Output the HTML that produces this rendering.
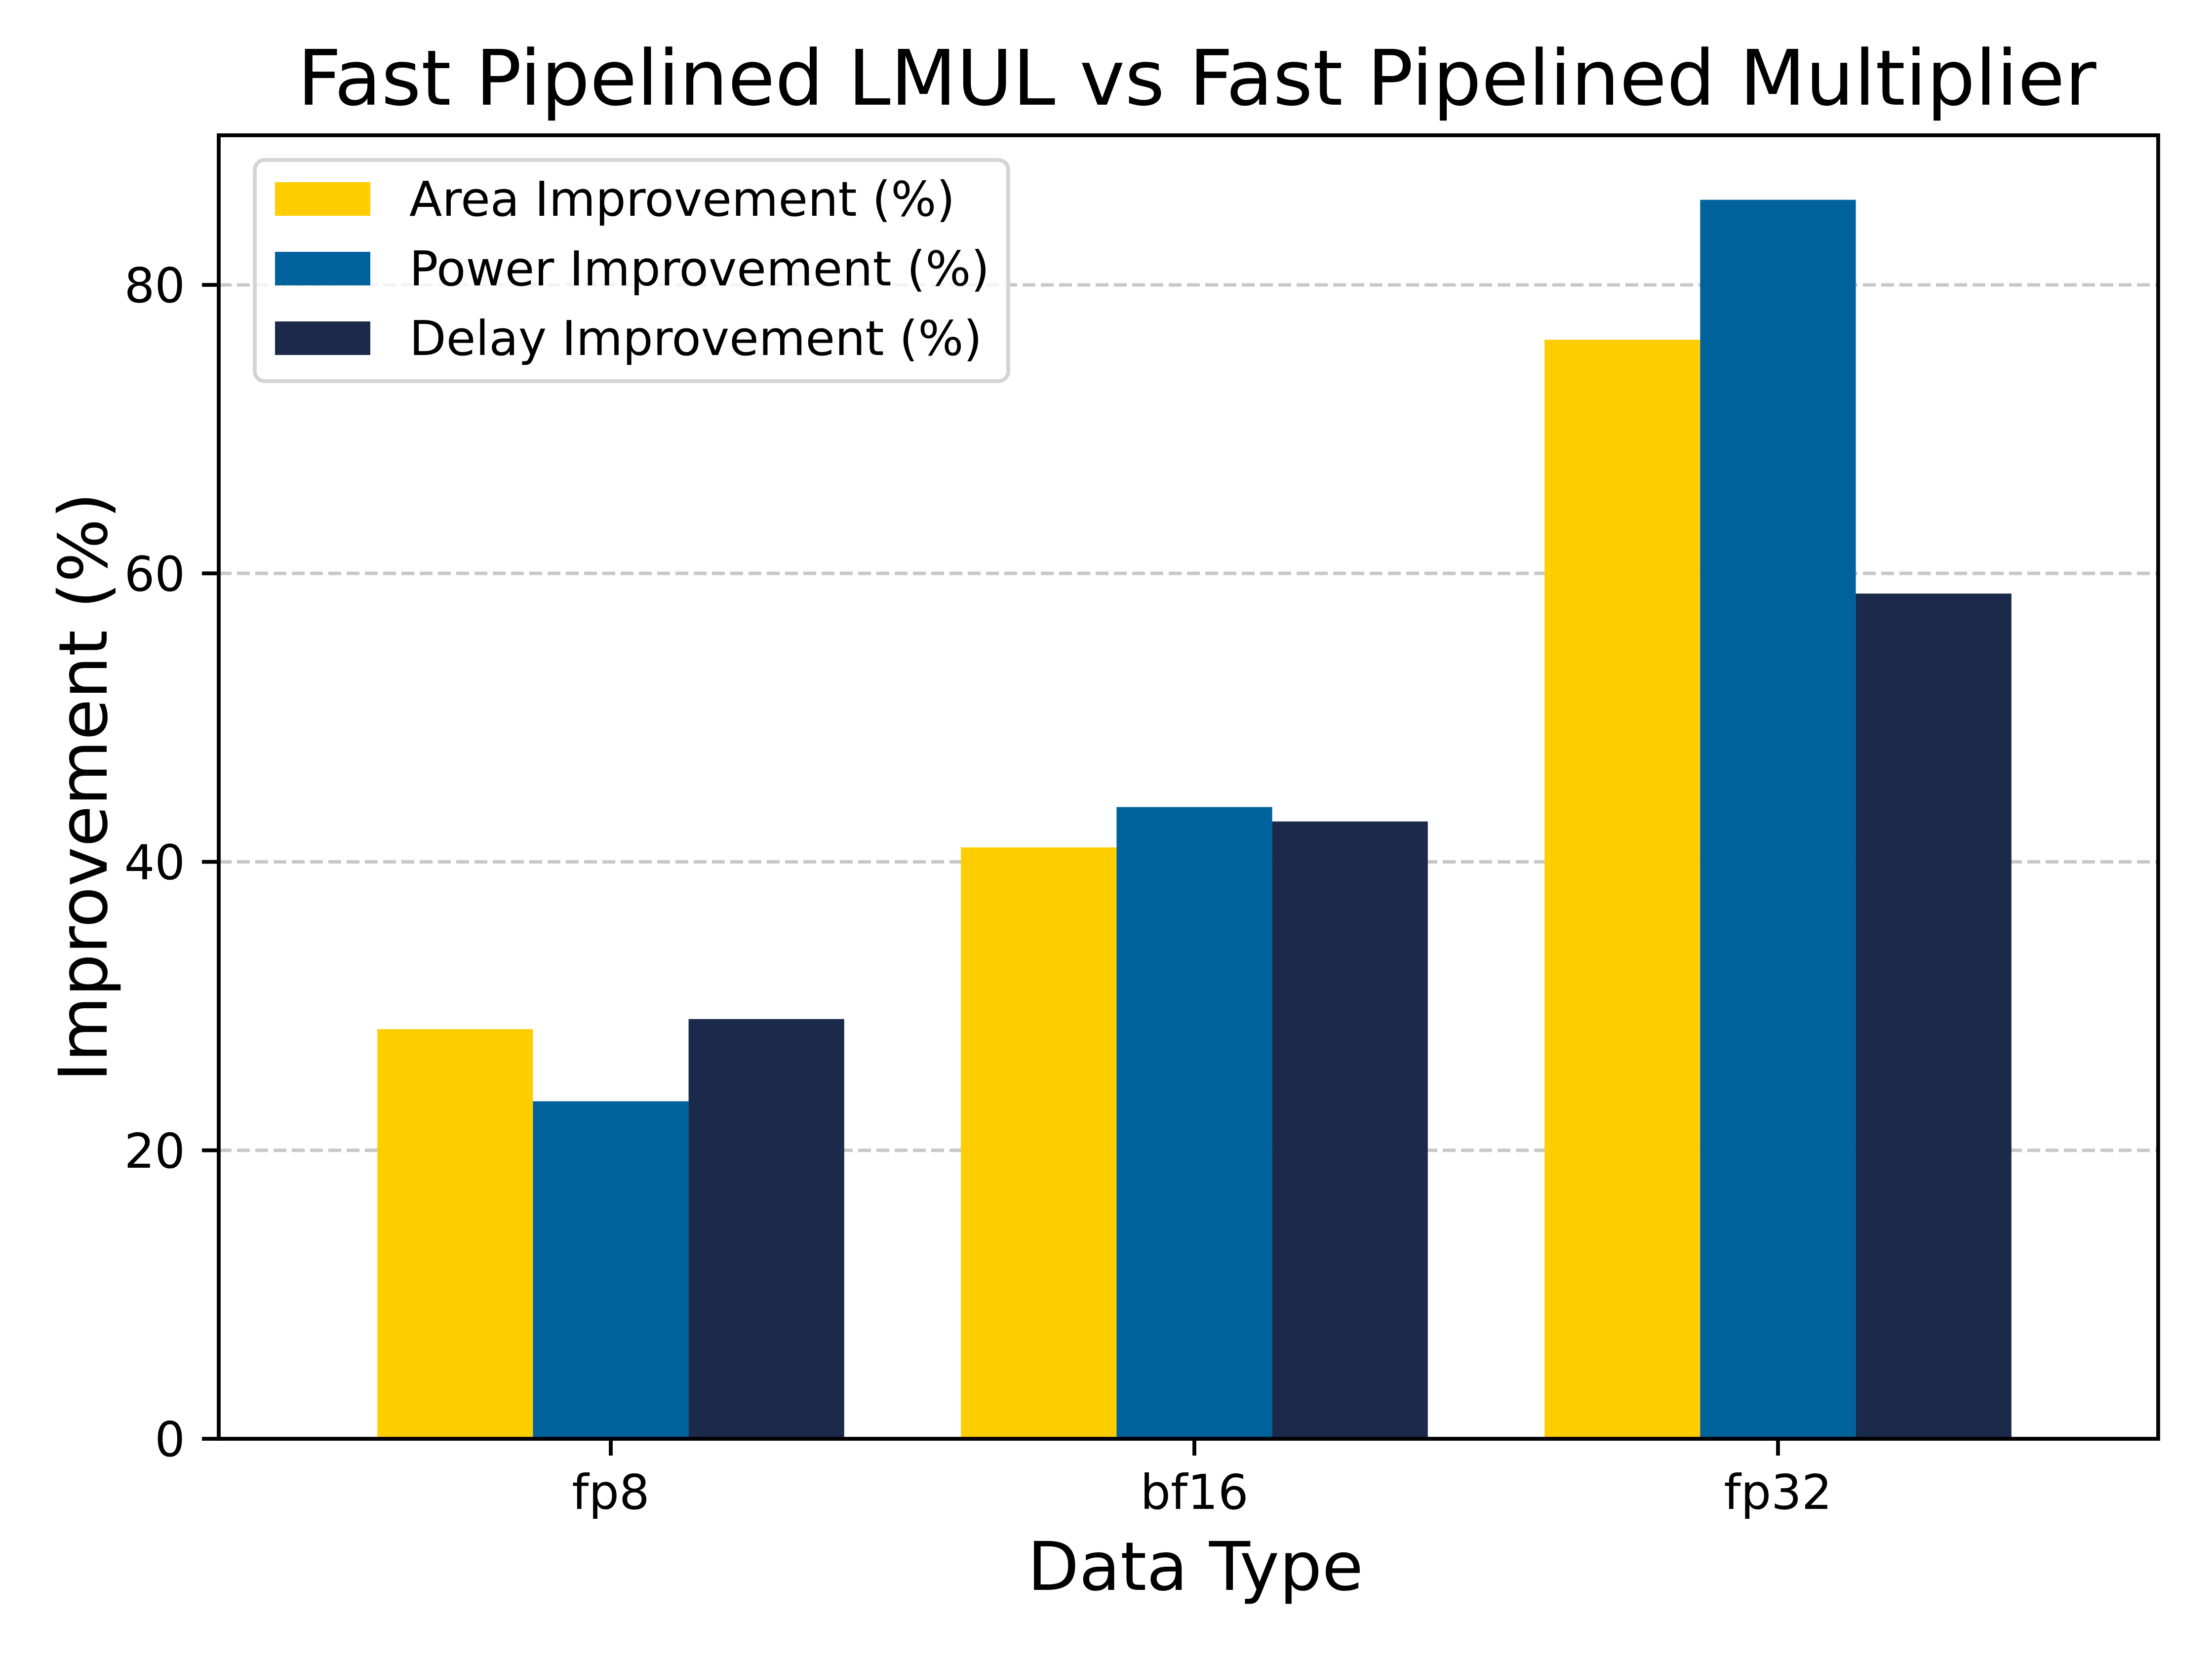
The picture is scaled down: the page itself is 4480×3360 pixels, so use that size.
<!DOCTYPE html>
<html><head><meta charset="utf-8"><style>
html,body{margin:0;padding:0;background:#fff;}
svg{display:block;font-family:"DejaVu Sans","Liberation Sans",sans-serif;}
</style></head><body>
<svg id="chart" xmlns="http://www.w3.org/2000/svg" width="4480" height="3360" viewBox="0 0 4480 3360">
<rect width="4480" height="3360" fill="#fff"/>
<g id="grid"></g>
<g id="bars"></g>
<rect x="443" y="274" width="3928" height="2640" fill="none" stroke="#000" stroke-width="7.8"/>
<g id="yticks"></g>
<g id="xticks"></g>
<text x="2424" y="212" font-size="155" text-anchor="middle" fill="#000">Fast Pipelined LMUL vs Fast Pipelined Multiplier</text>
<text x="2421" y="3220" font-size="136" text-anchor="middle" fill="#000">Data Type</text>
<text x="0" y="0" font-size="136" text-anchor="middle" fill="#000" transform="translate(216,1594) rotate(-90)">Improvement (%)</text>
<g id="legend">
<rect x="516" y="324" width="1526" height="448" rx="20" fill="#fff" fill-opacity="0.8" stroke="#d4d4d4" stroke-width="7.8"/>
</g>
</svg>
<script>
const categories = ["fp8", "bf16", "fp32"];
const seriesNames = ["Area Improvement (%)", "Power Improvement (%)", "Delay Improvement (%)"];
const areaValues = [28.4, 41.0, 76.2];
const powerValues = [23.4, 43.8, 85.9];
const delayValues = [29.1, 42.8, 58.6];
const yTicks = [0, 20, 40, 60, 80];

const seriesValues = [areaValues, powerValues, delayValues];
const colors = ["#FFCD00", "#00629B", "#1B2A4A"];
const NS = "http://www.w3.org/2000/svg";
const yBase = 2914, pxPerUnit = (2914 - 577) / 80;
function yScale(v){ return yBase - v * pxPerUnit; }
const x0 = 1237, unitPx = 1182, barW = unitPx * 0.8 / 3;
function xScale(i){ return x0 + i * unitPx; }
function mk(tag, attrs, parent){ const e = document.createElementNS(NS, tag); for (const k in attrs) e.setAttribute(k, attrs[k]); parent.appendChild(e); return e; }

const grid = document.getElementById('grid');
const yt = document.getElementById('yticks');
yTicks.forEach(t => {
  const y = yScale(t);
  if (t > 0) {
    const g = mk('line', {x1:443, x2:4371, y1:y, y2:y, stroke:'#c8c8c8', 'stroke-width':7, 'stroke-dasharray':'26 11'}, grid);
    
    
  }
  const tk = mk('line', {x1:409, x2:443, y1:y, y2:y, stroke:'#000', 'stroke-width':7.8}, yt);
  
  
  const lb = mk('text', {x:375, y:y + 35, 'font-size':97, 'text-anchor':'end', fill:'#000'}, yt);
  lb.textContent = t;
  
  
});

const bars = document.getElementById('bars');
seriesValues.forEach((vals, s) => {
  vals.forEach((v, i) => {
    const cx = xScale(i) + (s - 1) * barW;
    const r = mk('rect', {x:cx - barW/2, y:yScale(v), width:barW, height:yBase - yScale(v), fill:colors[s]}, bars);
    
    
  });
});

const xt = document.getElementById('xticks');
categories.forEach((c, i) => {
  const x = xScale(i);
  const tk = mk('line', {x1:x, x2:x, y1:2914, y2:2948, stroke:'#000', 'stroke-width':7.8}, xt);
  
  
  const lb = mk('text', {x:x, y:3056, 'font-size':97, 'text-anchor':'middle', fill:'#000'}, xt);
  lb.textContent = c;
  
  
});

const legend = document.getElementById('legend');
seriesNames.forEach((n, s) => {
  const cy = 403 + s * 141;
  const g = mk('g', {}, legend);
  
  
  const p = mk('rect', {x:557, y:cy - 34, width:193, height:68, fill:colors[s]}, g);
  
  
  const t = mk('text', {x:829, y:cy + 34, 'font-size':97, fill:'#000'}, g);
  t.textContent = n;
  
  
});
</script>
</body></html>
